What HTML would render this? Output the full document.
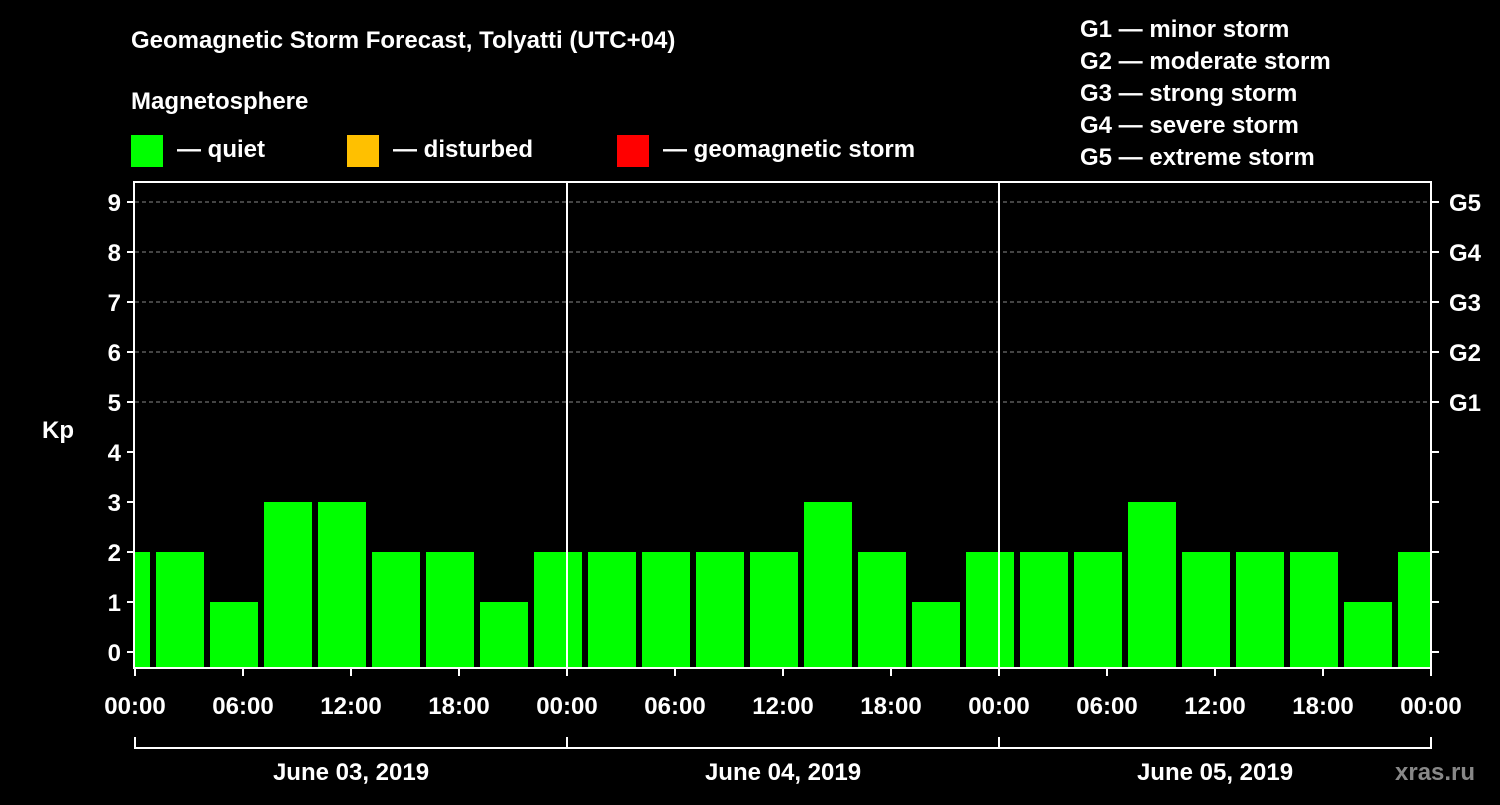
<!DOCTYPE html>
<html><head><meta charset="utf-8"><style>
body{margin:0;background:#000;width:1500px;height:800px;overflow:hidden;font-family:"Liberation Sans",Arial,sans-serif}
svg text{font-family:"Liberation Sans",Arial,sans-serif;font-weight:bold;fill:#fff}
</style></head><body>
<svg id="chart" width="1500" height="800" xmlns="http://www.w3.org/2000/svg">
<text x="131" y="48" font-size="24">Geomagnetic Storm Forecast, Tolyatti (UTC+04)</text>
<text x="131" y="109" font-size="24">Magnetosphere</text>
<rect x="131" y="135" width="32" height="32" fill="#00ff00"/>
<text x="177" y="157" font-size="24">— quiet</text>
<rect x="347" y="135" width="32" height="32" fill="#ffc000"/>
<text x="393" y="157" font-size="24">— disturbed</text>
<rect x="617" y="135" width="32" height="32" fill="#ff0000"/>
<text x="663" y="157" font-size="24">— geomagnetic storm</text>
<g font-size="24">
<text x="1080" y="37">G1 — minor storm</text>
<text x="1080" y="69">G2 — moderate storm</text>
<text x="1080" y="101">G3 — strong storm</text>
<text x="1080" y="133">G4 — severe storm</text>
<text x="1080" y="165">G5 — extreme storm</text>
</g>
<g id="grid"></g>
<g id="bars"></g>
<g id="axes"></g>
<text x="42" y="438" font-size="24">Kp</text>
<text x="1395" y="780" font-size="24" style="fill:#888">xras.ru</text>
</svg>
<script>
const kpHours=[-0.5,2.5,5.5,8.5,11.5,14.5,17.5,20.5,23.5,26.5,29.5,32.5,35.5,38.5,41.5,44.5,47.5,50.5,53.5,56.5,59.5,62.5,65.5,68.5,71.5];
const kpValues=[2,2,1,3,3,2,2,1,2,2,2,2,2,3,2,1,2,2,2,3,2,2,2,1,2];
const dayLabels=["June 03, 2019","June 04, 2019","June 05, 2019"];
const timeLabels=["00:00","06:00","12:00","18:00"];
const yTicks=[0,1,2,3,4,5,6,7,8,9];
const gLabels=["G1","G2","G3","G4","G5"];
const NS="http://www.w3.org/2000/svg";
const L=135,R=1431,T=182,B=668;
const x=h=>L+h*18;
const y=v=>652-v*50;
function mk(tag,attrs,parent,txt){const e=document.createElementNS(NS,tag);for(const k in attrs)e.setAttribute(k,attrs[k]);if(txt!==undefined)e.textContent=txt;document.getElementById(parent).appendChild(e);return e;}
for(let v=5;v<=9;v++){const g=mk('line',{x1:L,x2:R,y1:y(v),y2:y(v),stroke:'#888','stroke-dasharray':'4,3','stroke-width':1},'grid');

}
kpHours.forEach((h,i)=>{const x0=Math.max(L,x(h)-24),x1=Math.min(R-1,x(h)+24);const v=kpValues[i];
const c=v>=5?'#ff0000':v>=4?'#ffc000':'#00ff00';
const r=mk('rect',{x:x0,y:y(v),width:x1-x0,height:B-y(v),fill:c},'bars');

});
const fr=mk('rect',{x:L-1,y:T,width:R-L+1,height:B-T,fill:'none',stroke:'#fff','stroke-width':2},'axes');


[1,2].forEach(d=>{const l=mk('line',{x1:x(d*24),x2:x(d*24),y1:T,y2:B,stroke:'#fff','stroke-width':2},'axes');

});
yTicks.forEach(v=>{mk('line',{x1:L-8,x2:L,y1:y(v),y2:y(v),stroke:'#fff','stroke-width':2},'axes');
mk('line',{x1:R,x2:R+8,y1:y(v),y2:y(v),stroke:'#fff','stroke-width':2},'axes');
const t=mk('text',{x:L-14,y:y(v)+9,'text-anchor':'end','font-size':24},'axes',String(v));

});
gLabels.forEach((g,i)=>{const t=mk('text',{x:R+18,y:y(5+i)+9,'font-size':24},'axes',g);

});
for(let h=0;h<=72;h+=6){const lab=timeLabels[(h/6)%4];
mk('line',{x1:x(h),x2:x(h),y1:B,y2:B+8,stroke:'#fff','stroke-width':2},'axes');
const t=mk('text',{x:x(h),y:714,'text-anchor':'middle','font-size':24},'axes',lab);

}
mk('line',{x1:L,x2:R,y1:748,y2:748,stroke:'#fff','stroke-width':2},'axes');
for(let d=0;d<=3;d++)mk('line',{x1:x(d*24),x2:x(d*24),y1:737,y2:749,stroke:'#fff','stroke-width':2},'axes');
dayLabels.forEach((s,d)=>{const t=mk('text',{x:x(d*24+12),y:780,'text-anchor':'middle','font-size':24},'axes',s);

});
</script>
</body></html>
